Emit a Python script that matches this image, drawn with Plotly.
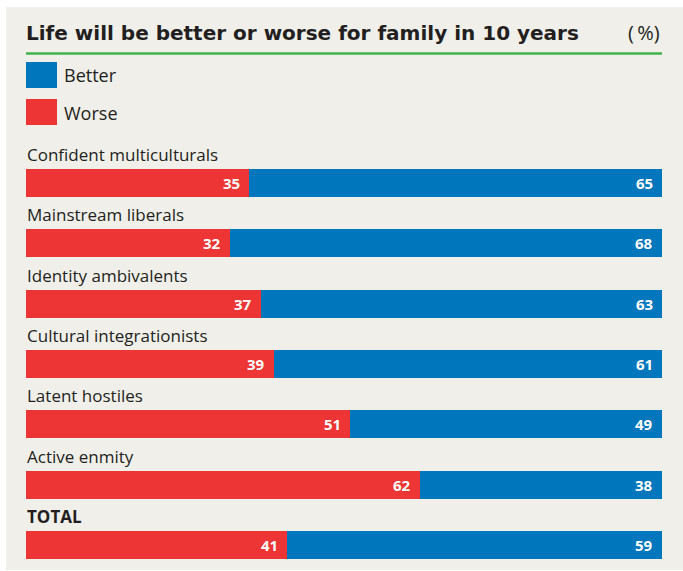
import plotly.graph_objects as go

# Survey segments and share (%) expecting life to get better / worse for their family
segments = ["Confident multiculturals", "Mainstream liberals", "Identity ambivalents",
            "Cultural integrationists", "Latent hostiles", "Active enmity", "TOTAL"]
worse = [35, 32, 37, 39, 51, 62, 41]
better = [65, 68, 63, 61, 49, 38, 59]

RED = "#ee3536"
BLUE = "#0077bd"
PANEL = "#f0efea"
INK = "#231f20"
LABEL_FONT = "Open Sans"
W, H = 683, 571

fig = go.Figure()
fig.add_trace(go.Bar(y=segments, x=worse, orientation="h", name="Worse",
                     marker=dict(color=RED, line=dict(width=0)), hoverinfo="x+y"))
fig.add_trace(go.Bar(y=segments, x=better, orientation="h", name="Better",
                     marker=dict(color=BLUE, line=dict(width=0)), hoverinfo="x+y"))

annotations = []
for seg, w, b in zip(segments, worse, better):
    # segment name above each bar
    annotations.append(dict(
        x=0, y=seg, xref="x", yref="y", xanchor="left", yanchor="bottom",
        yshift=15, xshift=-1, showarrow=False,
        text=f"<b>{seg}</b>" if seg == "TOTAL" else seg,
        font=dict(family=LABEL_FONT, size=17, color=INK)))
    # value labels right-aligned inside each segment
    annotations.append(dict(
        x=w, y=seg, xref="x", yref="y", xanchor="right", yanchor="middle",
        xshift=-7, showarrow=False, text=f"<b>{w}</b>",
        font=dict(family=LABEL_FONT, size=15, color="white")))
    annotations.append(dict(
        x=w + b, y=seg, xref="x", yref="y", xanchor="right", yanchor="middle",
        xshift=-7, showarrow=False, text=f"<b>{b}</b>",
        font=dict(family=LABEL_FONT, size=15, color="white")))

# title, unit and legend entries
annotations += [
    dict(x=24 / W, y=1 - 33 / H, xref="paper", yref="paper", xanchor="left", yanchor="middle",
         showarrow=False, text="<b>Life will be better or worse for family in 10 years</b>",
         font=dict(family="DejaVu Sans", size=20, color=INK)),
    dict(x=662 / W, y=1 - 33 / H, xref="paper", yref="paper", xanchor="right", yanchor="middle",
         showarrow=False, text="(\u2009%)", font=dict(family=LABEL_FONT, size=20, color=INK)),
    dict(x=62 / W, y=1 - 75 / H, xref="paper", yref="paper", xanchor="left", yanchor="middle",
         showarrow=False, text="Better", font=dict(family=LABEL_FONT, size=18, color=INK)),
    dict(x=62 / W, y=1 - 113 / H, xref="paper", yref="paper", xanchor="left", yanchor="middle",
         showarrow=False, text="Worse", font=dict(family=LABEL_FONT, size=18, color=INK)),
]

shapes = [
    # beige panel
    dict(type="rect", xref="paper", yref="paper", x0=6 / W, x1=1, y0=1 - 570 / H, y1=1 - 7 / H,
         fillcolor=PANEL, line=dict(width=0), layer="below"),
    # green rule under the title
    dict(type="line", xref="paper", yref="paper", x0=26 / W, x1=662 / W,
         y0=1 - 53.5 / H, y1=1 - 53.5 / H, line=dict(color="#3fb54b", width=2.5)),
    # legend swatches
    dict(type="rect", xref="paper", yref="paper", x0=26 / W, x1=57 / W,
         y0=1 - 88 / H, y1=1 - 62 / H, fillcolor=BLUE, line=dict(width=0)),
    dict(type="rect", xref="paper", yref="paper", x0=26 / W, x1=57 / W,
         y0=1 - 125 / H, y1=1 - 99 / H, fillcolor=RED, line=dict(width=0)),
]

fig.update_layout(
    width=W, height=H, margin=dict(l=0, r=0, t=0, b=0),
    paper_bgcolor="white", plot_bgcolor="rgba(0,0,0,0)",
    barmode="stack", bargap=0.535, showlegend=False,
    xaxis=dict(domain=[26 / W, 662 / W], range=[0, 100], visible=False, fixedrange=True),
    yaxis=dict(domain=[0, 1], range=[6.43, -3.033], visible=False, fixedrange=True,
               categoryorder="array", categoryarray=segments),
    annotations=annotations, shapes=shapes,
)

fig.write_html("out.html")
